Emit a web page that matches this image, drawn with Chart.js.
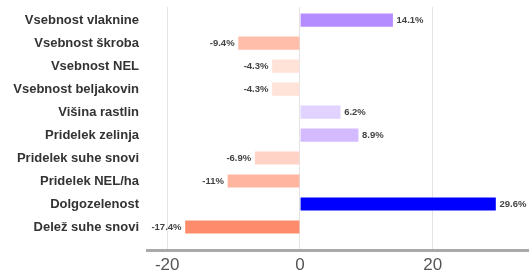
<!DOCTYPE html>
<html>
<head>
<meta charset="utf-8">
<script src="https://cdn.jsdelivr.net/npm/chart.js@4"></script>
<style>
  html, body { margin: 0; padding: 0; background: #fff; }
  #wrap { width: 529px; height: 272px; }
</style>
</head>
<body>
<div id="wrap"><canvas id="myChart" width="529" height="272"></canvas></div>
<script>
var categories = ['Vsebnost vlaknine', 'Vsebnost škroba', 'Vsebnost NEL', 'Vsebnost beljakovin',
    'Višina rastlin', 'Pridelek zelinja', 'Pridelek suhe snovi', 'Pridelek NEL/ha',
    'Dolgozelenost', 'Delež suhe snovi'];
var values = [14.1, -9.4, -4.3, -4.3, 6.2, 8.9, -6.9, -11, 29.6, -17.4];
var xTicks = [-20, 0, 20];

var barColors = ['#b58cff', '#ffbea9', '#ffe2d8', '#ffe2d8', '#e2d2ff',
    '#d4bbff', '#ffd4c6', '#ffb5a0', '#0000ff', '#ff8b6d'];

var FONT = '"Liberation Sans", Arial, sans-serif';

var valueLabels = {
    id: 'valueLabels',
    afterDatasetsDraw: function(chart) {
        var ctx = chart.ctx;
        var meta = chart.getDatasetMeta(0);
        ctx.save();
        ctx.font = 'bold 9.5px ' + FONT;
        ctx.fillStyle = '#444';
        ctx.textBaseline = 'middle';
        meta.data.forEach(function(bar, i) {
            var v = values[i];
            var txt = v + '%';
            if (v >= 0) {
                ctx.textAlign = 'left';
                ctx.fillText(txt, bar.x + 3, bar.y);
            } else {
                ctx.textAlign = 'right';
                ctx.fillText(txt, bar.x - 3, bar.y);
            }
        });
        ctx.restore();
    }
};

document.addEventListener("DOMContentLoaded", function() {
    var ctx = document.getElementById('myChart').getContext('2d');

    new Chart(ctx, {
        type: 'bar',
        data: {
            datasets: [{
                data: values.map(function(v, i) { return { x: v, y: i }; }),
                backgroundColor: barColors,
                borderColor: 'rgba(255,255,255,0.35)',
                borderWidth: 1,
                barThickness: 14.5
            }]
        },
        plugins: [valueLabels],
        options: {
            indexAxis: 'y',
            responsive: false,
            animation: false,
            layout: { padding: { top: 7, right: 0, left: 0, bottom: 0 } },
            plugins: {
                legend: { display: false },
                tooltip: { enabled: false }
            },
            scales: {
                x: {
                    type: 'linear',
                    min: -23.05,
                    max: 34.5,
                    afterBuildTicks: function(scale) {
                        scale.ticks = xTicks.map(function(t) { return { value: t }; });
                    },
                    afterFit: function(scale) {
                        scale.height = 22;
                        scale.paddingLeft = 0;
                        scale.paddingRight = 0;
                    },
                    grid: { color: '#e3e3e3', lineWidth: 1, drawTicks: false },
                    border: { display: true, color: '#a9a9a9', width: 3 },
                    ticks: {
                        padding: 5,
                        color: '#555',
                        font: { family: FONT, size: 17 }
                    }
                },
                y: {
                    type: 'linear',
                    reverse: true,
                    offset: false,
                    min: -0.57,
                    max: 10.0,
                    afterBuildTicks: function(scale) {
                        scale.ticks = categories.map(function(c, i) { return { value: i }; });
                    },
                    afterFit: function(scale) {
                        scale.width = 147;
                        scale.paddingTop = 0;
                        scale.paddingBottom = 0;
                    },
                    grid: { display: false, drawTicks: false, offset: false },
                    border: { display: false },
                    ticks: {
                        padding: 8,
                        color: '#333',
                        autoSkip: false,
                        font: { family: FONT, size: 13, weight: 'bold' },
                        callback: function(value) { return categories[value]; }
                    }
                }
            }
        }
    });
});
</script>
</body>
</html>
